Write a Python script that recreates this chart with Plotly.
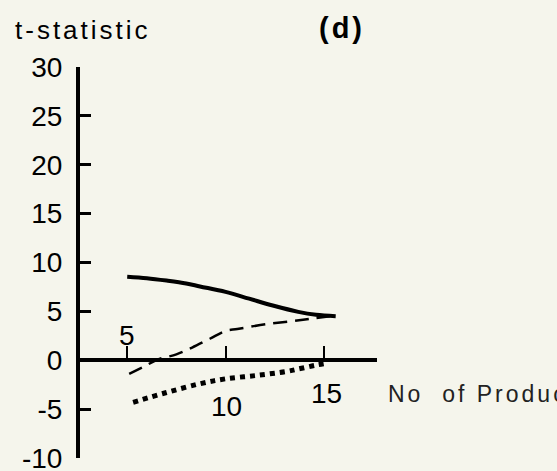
import plotly.graph_objects as go

# ---- data ----
solid_x = [5.0, 6.0, 7.0, 8.0, 8.7, 10.0, 11.2, 12.4, 13.7, 14.6, 15.6]
solid_y = [8.55, 8.4, 8.15, 7.85, 7.55, 7.0, 6.3, 5.6, 4.95, 4.65, 4.5]

dash_x = [5.1, 5.8, 6.6, 7.5, 8.3, 9.2, 10.0, 10.6, 12.1, 13.4, 14.3, 15.3]
dash_y = [-1.4, -0.7, 0.1, 0.6, 1.3, 2.2, 3.0, 3.2, 3.7, 4.0, 4.25, 4.5]

dot_x = [5.3, 7.0, 8.7, 10.0, 11.6, 13.1, 13.8, 14.6, 15.2]
dot_y = [-4.3, -3.3, -2.4, -1.9, -1.55, -1.15, -0.85, -0.5, -0.3]

y_ticks = [-10, -5, 0, 5, 10, 15, 20, 25, 30]
y_tick_labels = ["-10", "-5", "0", "5", "10", "15", "20", "25", "30"]
x_ticks = [5, 10, 15]
x_tick_labels = ["5", "10", "15"]
x_label_shift = [(0, 25), (1, -46), (3, -33)]

title_text = "t-statistic"
panel_text = "(d)"
x_title = "No  of Products"

W, H = 557, 471
ML, MR, MT, MB = 80, 180, 67, 13
PW, PH = W - ML - MR, H - MT - MB
BG = "#f5f5ec"
FONT = "Liberation Sans, Arial, sans-serif"


def px_x(p):
    return (p - ML) / PW


def px_y(p):
    return (H - MB - p) / PH


fig = go.Figure()
fig.add_trace(go.Scatter(x=solid_x, y=solid_y, mode="lines",
                         line=dict(color="black", width=4, shape="spline"),
                         showlegend=False, hoverinfo="skip"))
fig.add_trace(go.Scatter(x=dash_x, y=dash_y, mode="lines",
                         line=dict(color="black", width=2.5, dash="14px,8px", shape="spline"),
                         showlegend=False, hoverinfo="skip"))
fig.add_trace(go.Scatter(x=dot_x, y=dot_y, mode="lines",
                         line=dict(color="black", width=5, dash="5px,5px", shape="spline"),
                         showlegend=False, hoverinfo="skip"))

annotations = []
for xv, lab, (dx, dy) in zip(x_ticks, x_tick_labels, x_label_shift):
    annotations.append(dict(x=xv, y=0, xref="x", yref="y", text=lab, showarrow=False,
                            xshift=dx, yshift=dy, xanchor="center", yanchor="middle",
                            font=dict(family=FONT, size=28, color="black")))

annotations.append(dict(x=px_x(13), y=px_y(30), xref="paper", yref="paper",
                        text='<span style="letter-spacing:3px">' + title_text + '</span>',
                        showarrow=False, xanchor="left", yanchor="middle",
                        font=dict(family=FONT, size=26, color="black")))
annotations.append(dict(x=px_x(342), y=px_y(28), xref="paper", yref="paper",
                        text='<span style="letter-spacing:3px">' + panel_text + '</span>',
                        showarrow=False, xanchor="center", yanchor="middle",
                        font=dict(family=FONT, size=29, color="black", weight="bold")))
annotations.append(dict(x=px_x(386), y=px_y(394), xref="paper", yref="paper",
                        text='<span style="letter-spacing:3px">' + x_title + '</span>',
                        showarrow=False, xanchor="left", yanchor="middle",
                        font=dict(family=FONT, size=23, color="#222222")))

fig.update_layout(
    width=W, height=H,
    margin=dict(l=ML, r=MR, t=MT, b=MB, pad=0, autoexpand=False),
    paper_bgcolor=BG, plot_bgcolor=BG,
    showlegend=False,
    hovermode=False,
    annotations=annotations,
    xaxis=dict(range=[2.6, 17.7], anchor="free", position=0.25, automargin=False,
               showline=True, linecolor="black", linewidth=4,
               ticks="inside", tickvals=x_ticks, ticklen=12, tickwidth=2, tickcolor="black",
               showticklabels=False, showgrid=False, zeroline=False),
    yaxis=dict(range=[-10, 30], automargin=False,
               showline=True, linecolor="black", linewidth=4,
               ticks="inside", tickvals=y_ticks, ticktext=y_tick_labels,
               ticklen=11, tickwidth=3, tickcolor="black",
               ticklabelstandoff=8, ticklabeloverflow="allow",
               tickfont=dict(family=FONT, size=28, color="black"),
               showgrid=False, zeroline=False),
)

fig.write_html("out.html", config={"displayModeBar": False},
               post_script="document.body.style.margin='0';document.body.style.background='" + BG + "';")
